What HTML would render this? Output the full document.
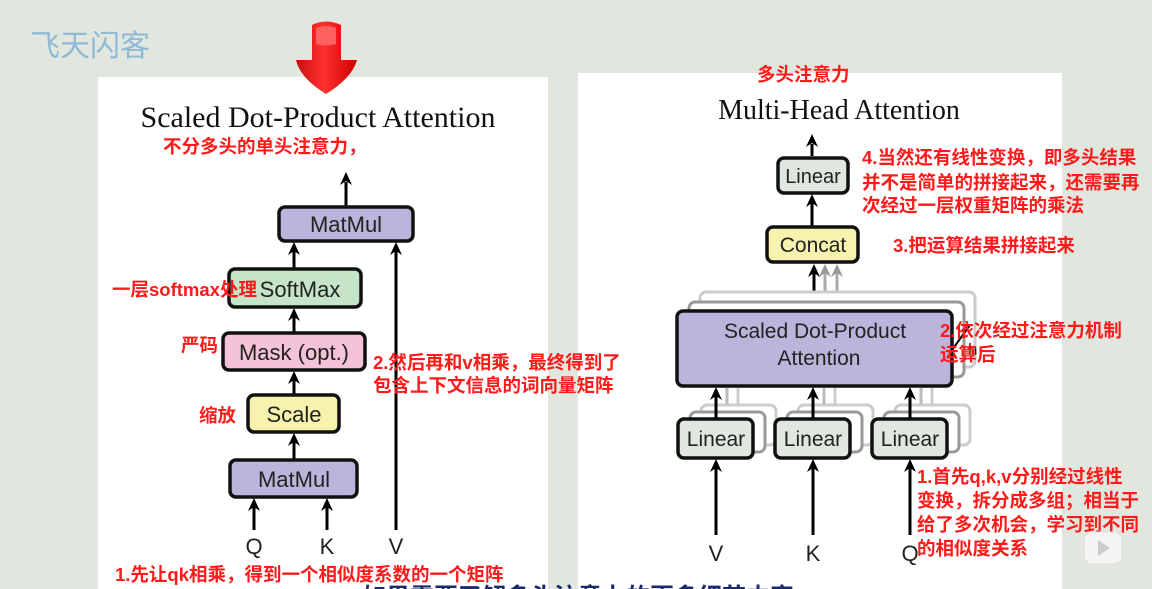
<!DOCTYPE html>
<html><head><meta charset="utf-8"><style>
html,body{margin:0;padding:0;background:#e1e7df;}
svg{display:block}
.r{fill:#ff1a1a;font-family:"Liberation Sans","Noto Sans CJK SC",sans-serif;font-weight:bold;font-size:18.5px}
.b{font-family:"Liberation Sans",sans-serif;fill:#222}
.t{font-family:"Liberation Serif",serif;fill:#111}
</style></head><body>
<svg width="1152" height="589" viewBox="0 0 1152 589" xmlns="http://www.w3.org/2000/svg">
<defs>
<path id="h" d="M-6,13 L0,0 L6,13 L0,9 Z" fill="#000"/>
<path id="hg" d="M-6,13 L0,0 L6,13 L0,9 Z" fill="#999"/>
<linearGradient id="rg" x1="0" x2="1"><stop offset="0" stop-color="#c80d0d"/><stop offset="0.45" stop-color="#ff3030"/><stop offset="1" stop-color="#c00"/></linearGradient>
</defs>
<rect width="1152" height="589" fill="#e1e7df"/>
<rect x="98" y="77" width="450" height="512" fill="#fff"/>
<rect x="578" y="73" width="484" height="516" fill="#fff"/>
<text x="30" y="56" font-family="Noto Sans CJK SC,sans-serif" font-size="30" fill="#8fbad6">飞天闪客</text>
<path d="M312,25 Q326,18 341,25 L341,60 L357,60 Q352,78 326,94 Q300,78 296,60 L312,60 Z" fill="url(#rg)"/>
<path d="M316,28 Q326,24 336,28 L336,44 Q326,47 316,44 Z" fill="#ff6060"/>
<!-- LEFT -->
<text x="318" y="127" text-anchor="middle" class="t" font-size="30">Scaled Dot-Product Attention</text>
<text x="163" y="153" class="r">不分多头的单头注意力，</text>
<g stroke="#000" stroke-width="3" fill="none">
<line x1="346" y1="206" x2="346" y2="182"/>
<line x1="294" y1="268" x2="294" y2="251"/>
<line x1="396" y1="530" x2="396" y2="251"/>
<line x1="294" y1="332" x2="294" y2="317"/>
<line x1="294" y1="394" x2="294" y2="380"/>
<line x1="294" y1="459" x2="294" y2="442"/>
<line x1="254" y1="530" x2="254" y2="507"/>
<line x1="327" y1="530" x2="327" y2="507"/>
</g>
<use href="#h" x="346" y="172"/><use href="#h" x="294" y="242"/><use href="#h" x="396" y="242"/>
<use href="#h" x="294" y="308"/><use href="#h" x="294" y="371"/><use href="#h" x="294" y="433"/>
<use href="#h" x="254" y="498"/><use href="#h" x="327" y="498"/>
<g stroke="#111" stroke-width="3.5">
<rect x="279" y="207" width="134" height="34" rx="6" fill="#bcb4db"/>
<rect x="229" y="269" width="132" height="38" rx="6" fill="#c5e4c8"/>
<rect x="223" y="333" width="142" height="37" rx="6" fill="#f5c3d8"/>
<rect x="248" y="395" width="91" height="37" rx="6" fill="#f7f2ae"/>
<rect x="230" y="460" width="127" height="37" rx="6" fill="#bcb4db"/>
</g>
<g class="b" font-size="22" text-anchor="middle">
<text x="346" y="232">MatMul</text>
<text x="300" y="297">SoftMax</text>
<text x="294" y="360">Mask (opt.)</text>
<text x="294" y="422">Scale</text>
<text x="294" y="487">MatMul</text>
<text x="254" y="554">Q</text><text x="327" y="554">K</text><text x="396" y="554">V</text>
</g>
<text x="112" y="296" class="r">一层softmax处理</text>
<text x="181" y="352" class="r">严码</text>
<text x="199" y="422" class="r">缩放</text>
<text x="373" y="369" class="r">2.然后再和v相乘，最终得到了</text>
<text x="373" y="392" class="r">包含上下文信息的词向量矩阵</text>
<text x="115" y="581" class="r">1.先让qk相乘，得到一个相似度系数的一个矩阵</text>
<text x="362" y="605" font-family="Noto Sans CJK SC,sans-serif" font-weight="bold" font-size="24" fill="#1a2a6a">如果需要了解多头注意力的更多细节内容</text>
<!-- RIGHT -->
<text x="757" y="81" class="r">多头注意力</text>
<text x="839" y="119" text-anchor="middle" class="t" font-size="28">Multi-Head Attention</text>
<g stroke="#000" stroke-width="3" fill="none">
<line x1="812" y1="156" x2="812" y2="144"/>
<line x1="812" y1="226" x2="812" y2="203"/>
</g>
<g stroke="#aaa" stroke-width="3" fill="none">
<line x1="837" y1="296" x2="837" y2="272"/>
<line x1="825" y1="300" x2="825" y2="272"/>
</g>
<use href="#hg" x="837" y="264"/><use href="#hg" x="825" y="264"/>
<line x1="814" y1="310" x2="814" y2="272" stroke="#000" stroke-width="3"/>
<use href="#h" x="814" y="264"/><use href="#h" x="812" y="134"/><use href="#h" x="812" y="194"/>
<rect x="700" y="292" width="275" height="75" rx="6" fill="#fff" stroke="#ccc" stroke-width="3"/>
<rect x="689" y="302" width="275" height="75" rx="6" fill="#fff" stroke="#999" stroke-width="3"/>
<rect x="677" y="311" width="275" height="75" rx="6" fill="#bcb4db" stroke="#111" stroke-width="3.5"/>
<text x="815" y="338" text-anchor="middle" class="b" font-size="21">Scaled Dot-Product</text>
<text x="819" y="365" text-anchor="middle" class="b" font-size="21">Attention</text>
<line x1="952" y1="350" x2="970" y2="325" stroke="#000" stroke-width="2"/>
<text x="968" y="355" class="b" font-size="17">h</text>
<rect x="767" y="227" width="91" height="35" rx="6" fill="#f7f2ae" stroke="#111" stroke-width="3.5"/>
<text x="813" y="252" text-anchor="middle" class="b" font-size="21">Concat</text>
<rect x="778" y="158" width="70" height="35" rx="6" fill="#e0e6e0" stroke="#111" stroke-width="3.5"/>
<text x="813" y="183" text-anchor="middle" class="b" font-size="20">Linear</text>
<g id="L">
<rect x="701" y="405" width="75" height="40" rx="6" fill="#fff" stroke="#ccc" stroke-width="3"/>
<rect x="690" y="412" width="75" height="40" rx="6" fill="#fff" stroke="#999" stroke-width="3"/>
<line x1="727" y1="404" x2="727" y2="388" stroke="#bbb" stroke-width="3"/>
<line x1="738" y1="404" x2="738" y2="388" stroke="#ccc" stroke-width="3"/>
<rect x="678" y="419" width="75" height="39" rx="6" fill="#e0e6e0" stroke="#111" stroke-width="3.5"/>
<text x="716" y="446" text-anchor="middle" class="b" font-size="21">Linear</text>
<line x1="716" y1="418" x2="716" y2="396" stroke="#000" stroke-width="3"/>
<use href="#h" x="716" y="387"/>
<line x1="716" y1="535" x2="716" y2="468" stroke="#000" stroke-width="3"/>
<use href="#h" x="716" y="459"/>
</g>
<use href="#L" x="97"/>
<use href="#L" x="194"/>
<g class="b" font-size="22" text-anchor="middle">
<text x="716" y="561">V</text><text x="813" y="561">K</text><text x="910" y="561">Q</text>
</g>
<text x="862" y="164" class="r">4.当然还有线性变换，即多头结果</text>
<text x="862" y="189" class="r">并不是简单的拼接起来，还需要再</text>
<text x="862" y="212" class="r">次经过一层权重矩阵的乘法</text>
<text x="893" y="252" class="r">3.把运算结果拼接起来</text>
<text x="940" y="337" class="r">2.依次经过注意力机制</text>
<text x="940" y="361" class="r">运算后</text>
<text x="917" y="483" class="r">1.首先q,k,v分别经过线性</text>
<text x="917" y="507" class="r">变换，拆分成多组；相当于</text>
<text x="917" y="531" class="r">给了多次机会，学习到不同</text>
<text x="917" y="555" class="r">的相似度关系</text>
<rect x="1084" y="532" width="38" height="32" rx="8" fill="#f4f4f4" stroke="#ddd"/>
<path d="M1098,540 L1110,548 L1098,556 Z" fill="#ccc"/>
</svg>
</body></html>
